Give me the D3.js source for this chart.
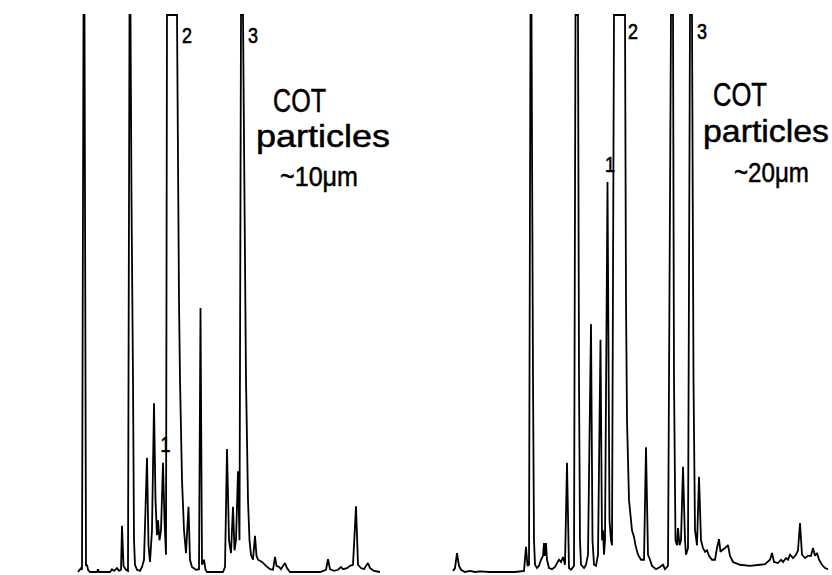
<!DOCTYPE html>
<html>
<head>
<meta charset="utf-8">
<script src="https://cdn.jsdelivr.net/npm/d3@7/dist/d3.min.js"></script>
<style>
  body { margin: 0; background: #fff; }
  #chart { width: 832px; height: 575px; }
</style>
</head>
<body>
<div id="chart"></div>
<script>
// chromatogram traces, retention (arb. min) vs detector response (% of full scale, pen limit = 100)
const leftTime = [4.8, 5.1, 5.2, 5.35, 5.45, 5.6, 5.7, 5.8, 6.0, 6.7, 6.8, 6.9, 8.0, 8.2, 8.4, 8.7, 8.9, 9.1, 9.2, 9.35,
  9.6, 9.8, 9.95, 10.05, 10.15, 10.3, 10.4, 10.5, 10.7, 11.0, 11.2, 11.4, 11.7, 11.85, 12.0, 12.2, 12.4, 12.55, 12.7, 12.8,
  12.95, 13.1, 13.3, 13.45, 13.6, 13.7, 14.7, 14.9, 15.0, 15.2, 15.4, 15.6, 15.85, 16.0, 16.2, 16.6, 16.9, 17.05, 17.2, 17.4,
  17.55, 17.7, 19.3, 19.5, 19.7, 19.9, 20.1, 20.3, 20.45, 20.6, 20.8, 20.95, 21.1, 21.3, 21.45, 21.6, 21.8, 21.95, 22.1, 22.3,
  22.5, 22.65, 22.8, 23.2, 23.6, 24.0, 24.3, 24.5, 24.65, 24.9, 25.1, 25.3, 25.5, 25.7, 26.0, 29.0, 29.6, 29.8, 30.0, 30.4,
  30.8, 31.1, 31.3, 31.7, 32.0, 32.3, 32.6, 32.8, 33.1, 33.4, 33.6, 33.8, 34.0, 34.4, 35.0];
const leftSignal = [0, 0.7, 0.4, 100, 100, 1.1, 1.3, 0.4, 0, 0, 0.5, 0, 0, 0.5, 0.2, 0.7, 0.2, 0.4, 8.3, 1.1,
  0.4, 0.2, 100, 100, 66.8, 34.5, 5.7, 1.3, 0.4, 0.2, 0.9, 2.2, 20.5, 4.8, 1.8, 7.5, 30.3, 12.9, 6.6, 9.3,
  5.7, 7.5, 19.6, 9.3, 3.1, 100, 100, 48.8, 34.5, 16.5, 7.5, 3.4, 11.7, 2.2, 0.9, 0.4, 0.5, 47.4, 1.3, 2.2,
  0.4, 0, 0, 0.9, 22.1, 5.7, 3.4, 11.7, 3.9, 5.7, 18.1, 5.7, 100, 100, 66.8, 34.5, 12.9, 5.7, 3.1, 2.2,
  6.5, 2.9, 2.2, 1.8, 1.1, 0.5, 0.4, 2.7, 1.1, 0.9, 0.5, 1.1, 1.6, 0.7, 0, 0, 0.4, 2.3, 0.5, 0.2,
  0.4, 0.9, 0.5, 0.7, 1.1, 1.3, 11.8, 1.3, 0.7, 0.5, 1.1, 1.6, 0.7, 0.2, 0];

const rightTime = [0.0, 0.2, 0.4, 0.6, 0.8, 1.2, 1.7, 2.2, 2.7, 3.7, 4.7, 6.2, 7.1, 7.3, 7.45, 7.6, 7.75, 7.85, 8.0, 8.1,
  8.2, 8.4, 8.6, 8.8, 9.0, 9.1, 9.2, 9.3, 9.4, 9.6, 9.9, 10.2, 10.4, 10.6, 10.8, 11.0, 11.2, 11.4, 11.6, 11.8,
  12.1, 12.25, 12.5, 12.6, 12.7, 12.8, 13.1, 13.3, 13.5, 13.8, 13.95, 14.1, 14.3, 14.5, 14.75, 14.9, 15.0, 15.1, 15.2, 15.45,
  15.65, 15.8, 15.9, 16.1, 17.2, 17.3, 17.4, 17.6, 17.9, 18.1, 18.25, 18.5, 18.8, 19.1, 19.3, 19.5, 19.7, 19.9, 20.3, 20.7,
  21.0, 21.2, 21.5, 21.8, 22.0, 22.1, 22.25, 22.4, 22.5, 22.65, 22.8, 23.0, 23.2, 23.3, 23.5, 23.7, 23.9, 24.05, 24.2, 24.4,
  24.6, 24.8, 25.0, 25.2, 25.4, 25.6, 25.9, 26.2, 26.4, 26.6, 26.75, 26.9, 27.2, 27.5, 27.7, 28.0, 28.7, 29.7, 30.7, 31.2,
  31.7, 31.9, 32.1, 32.5, 32.8, 33.0, 33.3, 33.5, 33.7, 34.0, 34.3, 34.5, 34.7, 34.9, 35.2, 35.5, 35.8, 36.0, 36.2, 36.4,
  36.6, 36.9, 37.2, 37.5];
const rightSignal = [0.2, 0.7, 3.4, 1.1, 0.4, 0, 0.2, 0, 0.1, 0, 0, 0, 0.2, 4.5, 1.1, 1.3, 100, 100, 34.5, 5.7,
  1.3, 0.7, 1.1, 2.2, 2.9, 5.2, 2.9, 5.2, 2.2, 0.7, 0.5, 0.9, 1.6, 2.2, 1.8, 2.7, 1.3, 19.6, 0.7, 0.4,
  1.1, 100, 100, 34.5, 5.7, 1.3, 0.7, 1.3, 3.1, 44.5, 5.7, 1.3, 1.1, 3.1, 41.7, 5.7, 7.5, 3.1, 5.7, 70.0,
  9.3, 5.7, 4.8, 100, 100, 48.8, 27.3, 12.9, 7.5, 6.3, 4.8, 3.1, 2.2, 2.2, 22.4, 3.1, 2.2, 1.1, 0.5, 0.9,
  1.3, 0.5, 1.1, 100, 100, 34.5, 5.7, 4.8, 7.9, 4.8, 5.7, 18.9, 5.7, 3.1, 4.3, 100, 100, 34.5, 7.5, 4.8,
  17.1, 5.7, 4.3, 3.6, 3.9, 2.9, 2.2, 2.2, 4.3, 5.9, 3.6, 3.9, 4.3, 4.8, 2.9, 1.8, 1.3, 1.1, 1.3, 1.4,
  2.2, 3.4, 1.8, 1.6, 2.2, 1.8, 2.5, 2.2, 3.1, 2.5, 3.1, 3.9, 8.8, 3.1, 2.5, 2.9, 2.9, 4.3, 2.9, 3.4,
  2.2, 1.3, 0.7, 0.5];

// peak numbers
const peakNames = ["1", "2", "3"];
const leftPeakTime = [13.05, 15.2, 21.8];
const leftPeakSignal = [21.5, 95, 95];
const rightPeakTime = [15.2, 17.5, 24.4];
const rightPeakSignal = [71.8, 95.7, 95.7];

// captions
const leftCaption = ["COT", "particles", "~10\u03bcm"];
const rightCaption = ["COT", "particles", "~20\u03bcm"];

const width = 832, height = 575;
const svg = d3.select("#chart").append("svg")
  .attr("width", width).attr("height", height)
  .style("background", "#fff");

function drawPanel(times, signals, x0, x1, tMax, names, pTimes, pSignals, caption, cap) {
  const x = d3.scaleLinear().domain([0, tMax]).range([x0, x1]);
  const y = d3.scaleLinear().domain([0, 100]).range([572, 15]);
  const pts = times.map((t, i) => [t, signals[i]]);

  const line = d3.line()
    .x(d => x(d[0]))
    .y(d => y(Math.min(d[1], 100)));

  svg.append("path")
    .datum(pts)
    .attr("d", line)
    .attr("fill", "none")
    .attr("stroke", "#000")
    .attr("stroke-width", 1.8)
    .attr("stroke-linejoin", "miter")
    .attr("stroke-miterlimit", 2);

  svg.selectAll(null)
    .data(names)
    .enter().append("text")
    .attr("x", (d, i) => x(pTimes[i]))
    .attr("y", (d, i) => y(pSignals[i]))
    .attr("font-family", "Liberation Sans, Arial, sans-serif")
    .attr("font-size", 22)
    .attr("textLength", 10)
    .attr("lengthAdjust", "spacingAndGlyphs")
    .attr("stroke", "#000")
    .attr("stroke-width", 0.6)
    .text(d => d);

  svg.selectAll(null)
    .data(caption)
    .enter().append("text")
    .attr("x", (d, i) => cap.x[i])
    .attr("y", (d, i) => cap.y[i])
    .attr("font-family", "Liberation Sans, Arial, sans-serif")
    .attr("font-size", (d, i) => cap.size[i])
    .attr("textLength", (d, i) => cap.w[i])
    .attr("lengthAdjust", "spacingAndGlyphs")
    .attr("stroke", "#000")
    .attr("stroke-width", 0.5)
    .text(d => d);
}

drawPanel(leftTime, leftSignal, 30, 380, 35, peakNames, leftPeakTime, leftPeakSignal, leftCaption,
  { x: [273, 256, 280], y: [112, 147, 186], size: [33, 32, 27], w: [53, 134, 78] });
drawPanel(rightTime, rightSignal, 453, 828, 37.5, peakNames, rightPeakTime, rightPeakSignal, rightCaption,
  { x: [713, 703, 734], y: [106, 142, 182], size: [33, 32, 27], w: [54, 126, 75] });
</script>
</body>
</html>
